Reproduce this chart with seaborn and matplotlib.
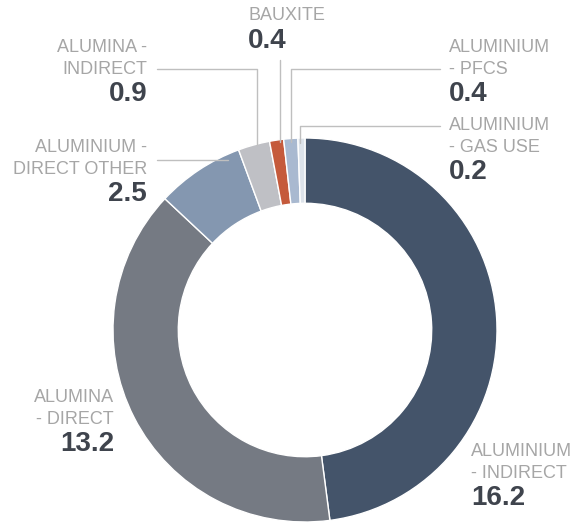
import matplotlib
matplotlib.use("Agg")
import matplotlib.pyplot as plt
import seaborn as sns

# donut slices, clockwise from 12 o'clock
categories = [
    "ALUMINIUM - INDIRECT", "ALUMINA - DIRECT", "ALUMINIUM - DIRECT OTHER",
    "ALUMINA - INDIRECT", "BAUXITE", "ALUMINIUM - PFCS", "ALUMINIUM - GAS USE",
]
values = [16.2, 13.2, 2.5, 0.9, 0.4, 0.4, 0.2]
label_lines = [
    ["ALUMINIUM", "- INDIRECT"],
    ["ALUMINA", "- DIRECT"],
    ["ALUMINIUM -", "DIRECT OTHER"],
    ["ALUMINA -", "INDIRECT"],
    ["BAUXITE"],
    ["ALUMINIUM", "- PFCS"],
    ["ALUMINIUM", "- GAS USE"],
]
slice_colors = ["#44546a", "#757a83", "#8497b0", "#bfc0c5", "#c55a3b", "#a9b9d0", "#dde3ea"]

W, H = 577, 524
CX, CY, R = 305, 330, 192
RING = 0.34

# label anchors in pixels (x, y of first line from top, alignment)
label_pos = [
    (471, 451, "left"),
    (114, 397, "right"),
    (147, 147, "right"),
    (147, 47, "right"),
    (248, 16, "left"),
    (449, 47, "left"),
    (449, 125, "left"),
]
leaders = [
    None,
    None,
    [(157, 160), (228, 160)],
    [(157, 69), (257, 69), (257, 145)],
    [(280, 60), (280, 142)],
    [(440, 69), (291, 69), (291, 142)],
    [(440, 126), (300, 126), (300, 143)],
]

sns.set_theme(style="white")
plt.rcParams["font.family"] = ["Liberation Sans", "DejaVu Sans"]
palette = sns.color_palette(slice_colors)

fig = plt.figure(figsize=(W / 100, H / 100), dpi=100)
ax = fig.add_axes([0, 0, 1, 1])
ax.set_xlim(0, W)
ax.set_ylim(0, H)
ax.axis("off")

ax.pie(values, colors=palette, startangle=90, counterclock=False,
       center=(CX, H - CY), radius=R,
       wedgeprops=dict(width=R * RING, edgecolor="white", linewidth=1))
ax.set_xlim(0, W)
ax.set_ylim(0, H)
ax.set_aspect("equal")

cat_color = "#a6a6a6"
val_color = "#3f444d"
for lines, val, (x, y, ha), lead in zip(label_lines, values, label_pos, leaders):
    for i, line in enumerate(lines):
        ax.text(x, H - (y + 22 * i), line, ha=ha, va="center",
                fontsize=13, color=cat_color)
    vy = y + 22 * (len(lines) - 1) + 25
    ax.text(x, H - vy, f"{val:.1f}", ha=ha, va="center",
            fontsize=20, fontweight="bold", color=val_color)
    if lead:
        xs = [p[0] for p in lead]
        ys = [H - p[1] for p in lead]
        ax.plot(xs, ys, color="#bfbfbf", lw=1)

fig.savefig("out.png", dpi=100)
